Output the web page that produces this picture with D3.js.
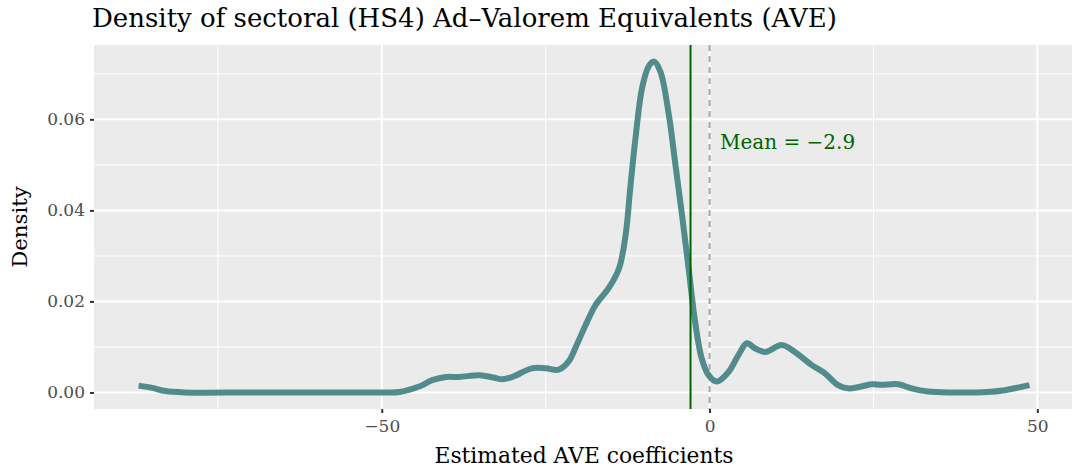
<!DOCTYPE html>
<html>
<head>
<meta charset="utf-8">
<script src="https://cdn.jsdelivr.net/npm/d3@7"></script>
<style>
  html, body { margin: 0; padding: 0; background: #fff; }
  svg { display: block; font-family: "DejaVu Serif", serif; }
</style>
</head>
<body>
<svg id="chart" width="1072" height="471"></svg>
<script>
// Density of sectoral AVE estimates.

const aveX = [-87.1, -85, -83, -80, -70, -60, -50, -47.3, -44.3, -42.3, -40.2, -38.2, -35.1, -33, -31.6, -30.1,
  -27.1, -25.0, -23.0, -21.4, -20.4, -18.9, -17.4, -15.4, -13.8, -12.8, -12.1, -11.3, -10.3, -9.3, -8.5, -7.5,
  -6.2, -5.2, -4.2, -3.2, -2.2, -1.2, -0.15, 1.1, 2.9, 4.4, 5.7, 6.9, 8.5, 11.0, 13.0, 15.6, 17.6, 19.6,
  21.1, 22.8, 24.7, 26.2, 28.8, 30.8, 33.3, 37, 42.4, 45.0, 48.8];
const density = [0.0015, 0.0010, 0.0003, 0.0000, 0.0000, 0.0000, 0.0000, 0.0001, 0.0013, 0.0027, 0.0034, 0.0034, 0.0038, 0.0033, 0.0029, 0.0034,
  0.0053, 0.0053, 0.0050, 0.0070, 0.0100, 0.0148, 0.0192, 0.0229, 0.0273, 0.0346, 0.0448, 0.0558, 0.0668, 0.0716, 0.0727, 0.0705,
  0.0609, 0.0500, 0.0390, 0.0273, 0.0155, 0.0075, 0.0038, 0.0024, 0.0045, 0.0082, 0.0108, 0.0097, 0.0089, 0.0104, 0.0089, 0.0060, 0.0042, 0.0016,
  0.0009, 0.0012, 0.0018, 0.0017, 0.0018, 0.0009, 0.0002, 0.0000, 0.0001, 0.0005, 0.0016];

const xTicks = [-50, 0, 50];
const xMinor = [-75, -25, 25];
const yTicks = [0, 0.02, 0.04, 0.06];
const yMinor = [0.01, 0.03, 0.05, 0.07];
const meanValue = -2.9;
const meanLabel = "Mean = \u22122.9";

const svg = d3.select("#chart");
const margin = { top: 45, right: -2, bottom: 62, left: 94 };
const W = 1072, H = 471;
const innerW = W - margin.left - margin.right;
const innerH = H - margin.top - margin.bottom;

// ggplot-style 5% expansion around the data range
const xr = d3.extent(aveX), xpad = (xr[1] - xr[0]) * 0.05;
const yMax = d3.max(density), ypad = yMax * 0.05;

const x = d3.scaleLinear().domain([xr[0] - xpad, xr[1] + xpad]).range([0, innerW]);
const y = d3.scaleLinear().domain([-ypad, yMax + ypad]).range([innerH, 0]);

const g = svg.append("g").attr("transform", `translate(${margin.left},${margin.top})`);

g.append("rect").attr("width", innerW).attr("height", innerH).attr("fill", "#ebebeb");

// grid
g.selectAll(".gx-minor").data(xMinor).join("line")
  .attr("x1", d => x(d)).attr("x2", d => x(d)).attr("y1", 0).attr("y2", innerH)
  .attr("stroke", "#fff").attr("stroke-width", 1);
g.selectAll(".gy-minor").data(yMinor).join("line")
  .attr("y1", d => y(d)).attr("y2", d => y(d)).attr("x1", 0).attr("x2", innerW)
  .attr("stroke", "#fff").attr("stroke-width", 1);
g.selectAll(".gx").data(xTicks).join("line")
  .attr("x1", d => x(d)).attr("x2", d => x(d)).attr("y1", 0).attr("y2", innerH)
  .attr("stroke", "#fff").attr("stroke-width", 2);
g.selectAll(".gy").data(yTicks).join("line")
  .attr("y1", d => y(d)).attr("y2", d => y(d)).attr("x1", 0).attr("x2", innerW)
  .attr("stroke", "#fff").attr("stroke-width", 2);

// axes
const xAxis = g.append("g").attr("transform", `translate(0,${innerH})`)
  .call(d3.axisBottom(x).tickValues(xTicks).tickSize(4).tickPadding(7)
    .tickFormat(d => d < 0 ? "\u2212" + Math.abs(d) : d));
const yAxis = g.append("g")
  .call(d3.axisLeft(y).tickValues(yTicks).tickSize(4).tickPadding(5).tickFormat(d3.format(".2f")));
[xAxis, yAxis].forEach(a => {
  a.select(".domain").remove();
  a.selectAll(".tick line").attr("stroke", "#333").attr("stroke-width", 2);
  a.selectAll(".tick text").attr("fill", "#4d4d4d").attr("font-size", 17)
    .attr("font-family", "DejaVu Serif, serif");
});

// zero reference and mean line
g.append("line")
  .attr("x1", x(0)).attr("x2", x(0)).attr("y1", 0).attr("y2", innerH)
  .attr("stroke", "#a6a6a6").attr("stroke-width", 2).attr("stroke-dasharray", "6 5");

g.append("path")
  .datum(aveX.map((v, i) => [v, density[i]]))
  .attr("fill", "none")
  .attr("stroke", "#528b8b")
  .attr("stroke-width", 6)
  .attr("stroke-linejoin", "round")
  .attr("d", d3.line().x(d => x(d[0])).y(d => y(d[1])).curve(d3.curveCatmullRom.alpha(0.5)));

g.append("line")
  .attr("x1", x(meanValue)).attr("x2", x(meanValue)).attr("y1", 0).attr("y2", innerH)
  .attr("stroke", "#006400").attr("stroke-width", 2);

g.append("text")
  .attr("x", x(1.6)).attr("y", y(0.055)).attr("dy", "0.35em")
  .attr("fill", "#006400").attr("font-size", 20)
  .text(meanLabel);

// titles
svg.append("text").attr("x", 92).attr("y", 27)
  .attr("font-size", 26).attr("fill", "#000")
  .text("Density of sectoral (HS4) Ad\u2013Valorem Equivalents (AVE)");

svg.append("text").attr("x", margin.left + innerW / 2).attr("y", 463)
  .attr("text-anchor", "middle").attr("font-size", 21.8).attr("fill", "#000")
  .text("Estimated AVE coefficients");

svg.append("text")
  .attr("transform", `translate(27,${margin.top + innerH / 2}) rotate(-90)`)
  .attr("text-anchor", "middle").attr("font-size", 21.3).attr("fill", "#000")
  .text("Density");
</script>
</body>
</html>
